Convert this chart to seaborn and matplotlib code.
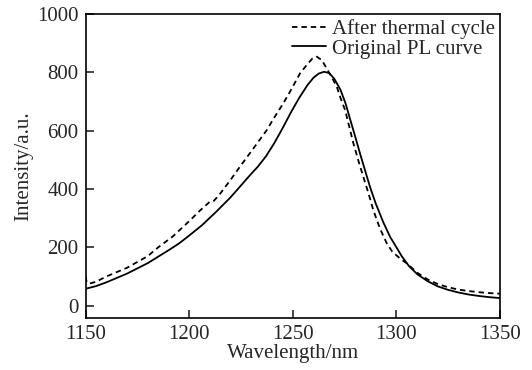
import numpy as np
import pandas as pd
import matplotlib
matplotlib.use("Agg")
import matplotlib.pyplot as plt
import seaborn as sns

wl_original = [1150, 1155, 1160, 1170, 1180, 1190, 1195, 1199, 1206, 1213, 1220, 1229, 1233,
               1237, 1241, 1245, 1249, 1253, 1257, 1260, 1262.5, 1265, 1267.5, 1270, 1273,
               1275.5, 1277.6, 1280, 1282.4, 1285, 1287.2, 1290, 1293.7, 1297, 1300,
               1302.5, 1306, 1310, 1315, 1320, 1325, 1330, 1335, 1340, 1345, 1350]
int_original = [58, 67, 80, 110, 146, 190, 213, 235, 275, 322, 372, 445, 476,
                512, 557, 608, 662, 712, 756, 782, 796, 802, 798, 778, 740,
                692, 640, 582, 522, 460, 408, 350, 285, 235, 200,
                170, 136, 108, 84, 66, 54, 45, 38, 33, 29, 26]

wl_thermal = [1150, 1150.5, 1152, 1155, 1160, 1170, 1180, 1185, 1192, 1200, 1205, 1210,
              1212, 1215, 1220, 1224.5, 1230, 1237.4, 1241, 1245.4, 1249.5, 1253.5,
              1257, 1259.5, 1261.5, 1264, 1267, 1269, 1271.2, 1273, 1275.2, 1277,
              1279.2, 1281.5, 1284, 1286.5, 1288.8, 1292, 1295.3, 1298, 1302, 1305,
              1310, 1315, 1320, 1325, 1330, 1335, 1340, 1345, 1350]
int_thermal = [100, 80, 76, 82, 100, 130, 170, 200, 237, 290, 325, 357,
               360, 385, 432, 477, 530, 602, 645, 694, 745, 797,
               828, 848, 854, 842, 805, 780, 751, 712, 671, 620,
               557, 500, 442, 385, 328, 265, 214, 185, 160, 145,
               113, 90, 74, 63, 55, 50, 46, 43, 41]

label_thermal = "After thermal cycle"
label_original = "Original PL curve"

sns.set_style("ticks")
plt.rcParams['font.family'] = ['Liberation Serif', 'DejaVu Serif']
plt.rcParams['mathtext.fontset'] = 'stix'

fig = plt.figure(figsize=(5.32, 3.70), dpi=100)
ax = fig.add_axes([0.161, 0.140, 0.779, 0.822])

df_t = pd.DataFrame({"wl": wl_thermal, "I": int_thermal})
df_o = pd.DataFrame({"wl": wl_original, "I": int_original})

sns.lineplot(data=df_t, x="wl", y="I", ax=ax, color="black", lw=1.3,
             linestyle=(0, (3, 2.2)), label=label_thermal, sort=False)
sns.lineplot(data=df_o, x="wl", y="I", ax=ax, color="black", lw=1.3,
             label=label_original, sort=False)

fs = 15
ax.set_xlim(1150, 1350)
ax.set_ylim(-43, 1000)
ax.set_xticks([1150, 1200, 1250, 1300, 1350])
ax.set_yticks([0, 200, 400, 600, 800, 1000])
ax.set_xlabel("Wavelength/nm", fontsize=fs, labelpad=0)
ax.set_ylabel("Intensity/a.u.", fontsize=fs, labelpad=3)
ax.tick_params(axis='both', direction='in', length=5.5, width=1.2, labelsize=fs,
               top=False, right=False, pad=5)
for s in ax.spines.values():
    s.set_linewidth(1.2)
    s.set_color("black")
    s.set_visible(True)

leg = ax.legend(loc="upper right", frameon=False, fontsize=fs, handlelength=1.6,
                handletextpad=0.3, borderaxespad=0.1, labelspacing=0.0,
                borderpad=0.15)

fig.savefig("out.png", dpi=100)
